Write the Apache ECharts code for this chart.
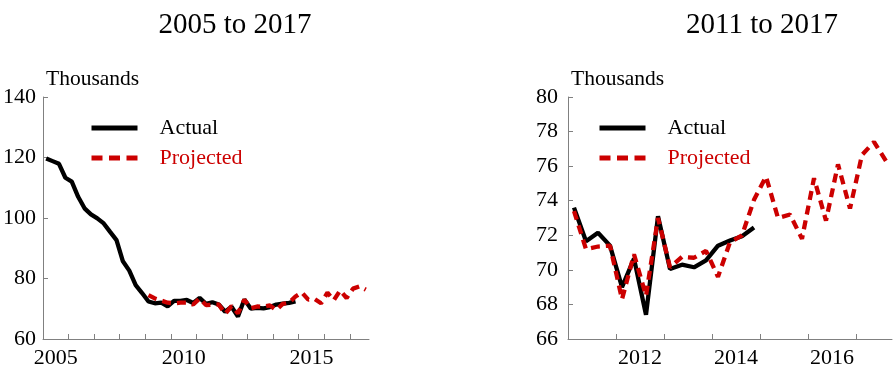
<!DOCTYPE html>
<html><head><meta charset="utf-8">
<script src="https://cdn.jsdelivr.net/npm/echarts@6/dist/echarts.min.js"></script>
<style>html,body{margin:0;padding:0;background:#fff}#c{width:894px;height:371px}</style>
</head><body><div id="c"></div>
<script>
// ---- data (quarterly, thousands) ----
const titles = ['2005 to 2017', '2011 to 2017'];
const seriesNames = ['Actual', 'Projected'];
const yAxisName = 'Thousands';
const actualStartYear = 2005;      // first value = 2005 Q1
const actualThousands = [
  119.7, 118.8, 117.9, 113.3,
  112.0, 107.0, 103.2, 101.2,
  99.9, 98.2, 95.4, 92.7,
  85.7, 82.6, 77.8, 75.2,
  72.4, 71.8, 72.0, 70.8,
  72.6, 72.6, 72.9, 71.9,
  73.6, 71.65, 72.15, 71.4,
  69.0, 70.65, 67.4, 73.1,
  70.05, 70.3, 70.15, 70.55,
  71.4, 71.7, 71.95, 72.45
];
const projectedStartYear = 2009;   // first value = 2009 Q1
const projectedThousands = [
  74.5, 73.4, 72.7, 72.0,
  71.8, 72.0, 72.0, 71.4,
  73.4, 71.2, 71.35, 71.4,
  68.3, 70.9, 68.5, 73.0,
  70.15, 70.75, 70.7, 71.1,
  69.6, 71.6, 72.0, 74.05,
  75.4, 73.0, 73.2, 71.8,
  75.3, 72.85, 76.1, 73.55,
  76.65, 77.4, 76.3
];
const leftYears = [2005, 2006, 2007, 2008, 2009, 2010, 2011, 2012, 2013, 2014, 2015, 2016, 2017];
const leftYearLabels = [2005, 2010, 2015];
const rightYears = [2011, 2012, 2013, 2014, 2015, 2016, 2017];
const rightYearLabels = [2012, 2014, 2016];
const leftXRange = [2005, 2017.75];
const rightXRange = [2011, 2017.75];
const leftYRange = [60, 140, 20];
const rightYRange = [66, 80, 2];

// ---- build ----
const FONT = 'Liberation Serif';
const BLACK = '#000000';
const RED = '#cc0000';
const AXIS = '#808080';

function toPairs(startYear, values, fromYear) {
  return values.map((v, i) => [startYear + (i + 0.5) / 4, v]).filter(p => p[0] >= fromYear);
}

function xAxisFor(gridIndex, range, years, labels) {
  return {
    type: 'value', gridIndex, min: range[0], max: range[1],
    axisLine: { show: true, onZero: false, lineStyle: { color: AXIS, width: 1 } },
    axisTick: { show: true, inside: true, length: 5, customValues: years, lineStyle: { color: AXIS } },
    axisLabel: {
      customValues: labels.map(y => y + 0.5),
      formatter: v => String(Math.floor(v)),
      fontFamily: FONT, fontSize: 22, color: '#000', margin: 8
    },
    splitLine: { show: false }
  };
}
function yAxisFor(gridIndex, r, margin) {
  return {
    type: 'value', gridIndex, min: r[0], max: r[1], interval: r[2],
    name: yAxisName, nameLocation: 'end', nameGap: 18,
    nameTextStyle: { fontFamily: FONT, fontSize: 21.5, color: '#000', align: 'left', verticalAlign: 'middle', padding: [0, 0, 0, 3] },
    axisLine: { show: true, onZero: false, lineStyle: { color: AXIS, width: 1 } },
    axisTick: { show: true, inside: true, length: 5, lineStyle: { color: AXIS } },
    axisLabel: { fontFamily: FONT, fontSize: 22, color: '#000', margin },
    splitLine: { show: false }
  };
}
function legendFor(left) {
  return {
    left, top: 112, orient: 'vertical', itemWidth: 46, itemHeight: 14, itemGap: 8,
    selectedMode: false,
    textStyle: { fontFamily: FONT, fontSize: 22, lineHeight: 22, padding: [0, 0, 0, 17] },
    data: [
      { name: seriesNames[0], itemStyle: { opacity: 0 }, lineStyle: { width: 5, color: BLACK, opacity: 1 }, textStyle: { color: BLACK } },
      { name: seriesNames[1], itemStyle: { opacity: 0 }, lineStyle: { width: 5, color: RED, opacity: 1, type: [11, 6.5] }, textStyle: { color: RED } }
    ]
  };
}
function seriesFor(idx, fromYear) {
  return [
    { name: seriesNames[0], type: 'line', xAxisIndex: idx, yAxisIndex: idx, symbol: 'none',
      data: toPairs(actualStartYear, actualThousands, fromYear),
      lineStyle: { color: BLACK, width: 4.3 }, itemStyle: { color: BLACK }, z: 2 },
    { name: seriesNames[1], type: 'line', xAxisIndex: idx, yAxisIndex: idx, symbol: 'none',
      data: toPairs(projectedStartYear, projectedThousands, fromYear),
      lineStyle: { color: RED, width: 4.3, type: [9, 6] }, itemStyle: { color: RED }, z: 3 }
  ];
}

const chart = echarts.init(document.getElementById('c'), null, { renderer: 'canvas' });
chart.setOption({
  animation: false,
  backgroundColor: '#ffffff',
  title: [
    { text: titles[0], left: 230, top: 6, textAlign: 'center', textStyle: { fontFamily: FONT, fontSize: 29, fontWeight: 'normal', color: '#000' } },
    { text: titles[1], left: 757, top: 6, textAlign: 'center', textStyle: { fontFamily: FONT, fontSize: 29, fontWeight: 'normal', color: '#000' } }
  ],
  legend: [legendFor(84), legendFor(592)],
  grid: [
    { left: 43, top: 97, width: 326, height: 242 },
    { left: 568, top: 97, width: 324, height: 242 }
  ],
  xAxis: [xAxisFor(0, leftXRange, leftYears, leftYearLabels), xAxisFor(1, rightXRange, rightYears, rightYearLabels)],
  yAxis: [yAxisFor(0, leftYRange, 7), yAxisFor(1, rightYRange, 10)],
  series: [...seriesFor(0, leftXRange[0]), ...seriesFor(1, rightXRange[0])]
});
</script>
</body></html>
